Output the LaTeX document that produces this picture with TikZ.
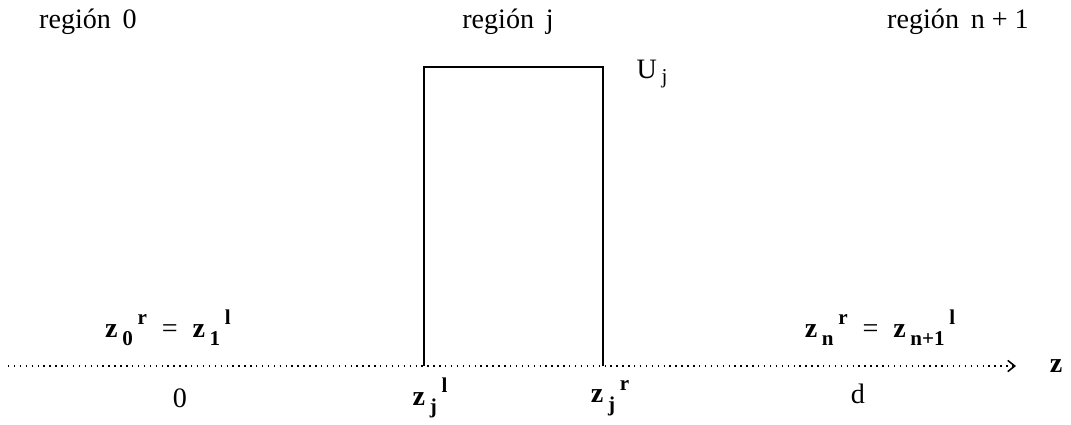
\documentclass[tikz,border=0pt]{standalone}
\usepackage{fontspec}
\setmainfont{Liberation Serif}
\usetikzlibrary{arrows.meta}
% z with spaced sub- and superscript
\newcommand{\zsym}[2]{\textbf{z}\,\raisebox{-6pt}{\fontsize{15}{16}\selectfont\textbf{#1}}\,\raisebox{9pt}{\fontsize{15}{16}\selectfont\textbf{#2}}}
\begin{document}
\begin{tikzpicture}[x = .025cm, y = -.025cm,
    every node/.style = {font = \fontsize{20}{22}\selectfont},
    axisline/.style = {line width = 1.1pt, dash pattern = on 1pt off 3.2pt,
      -{Straight Barb[length = 5pt, width = 8pt]}},
    wall/.style = {line width = 1.1pt}]
  \useasboundingbox (0,0) rectangle (1071,424);
  % region labels
  \node (reg0) at (88,22) {región\, 0};
  \node (regj) at (508,22) {región\, j};
  \node (regn) at (958,22) {región\, n + 1};
  % axis
  \coordinate (axstart) at (8,366);
  \coordinate (axend) at (1016,366);
  \node (zaxis) at (1056,366) {\textbf{z}};
  \draw [axisline] (axstart) -- (axend);
  % barrier
  \coordinate (zjl) at (424,366);
  \coordinate (zjr) at (603,366);
  \coordinate (topl) at (424,67);
  \coordinate (topr) at (603,67);
  \draw [wall] (zjl) -- (topl) -- (topr) -- (zjr);
  \node (Uj) at (652,74) {U\,\raisebox{-4pt}{\fontsize{15}{16}\selectfont j}};
  % boundary labels
  \node (left) at (168,328) {\zsym{0}{r} \;=\; \zsym{1}{l}};
  \node (right) at (880,328) {\zsym{n}{r} \;=\; \zsym{n+1}{l}};
  \node (zero) at (180,398) {0};
  \node (lzj) at (430,398) {\zsym{j}{l}};
  \node (rzj) at (610,398) {\zsym{j}{r}};
  \node (dd) at (858,394) {d};
\end{tikzpicture}
\end{document}
